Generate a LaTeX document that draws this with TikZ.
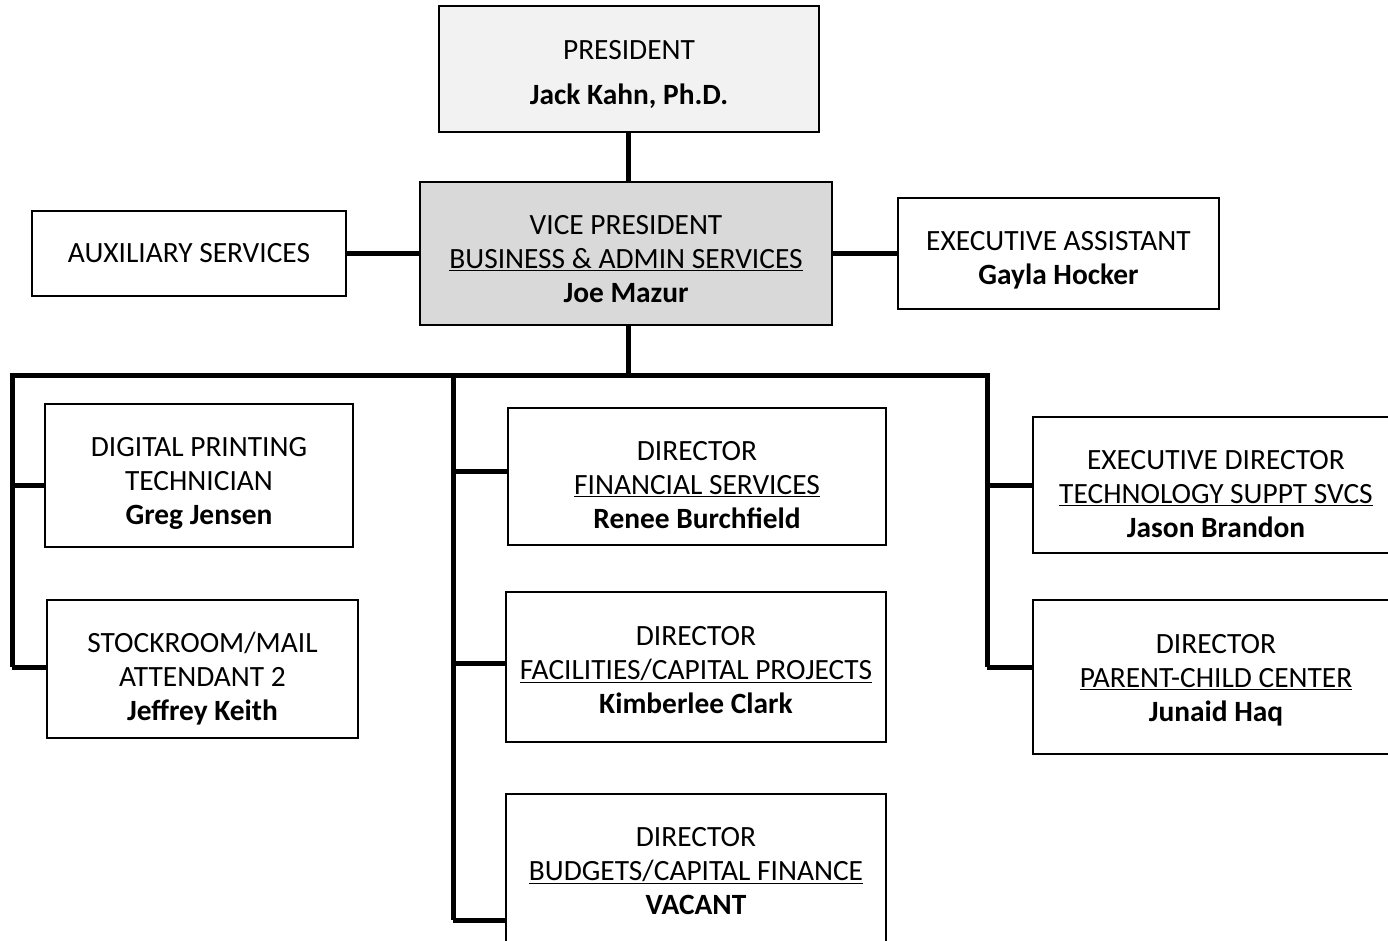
\documentclass[tikz,border=0pt]{standalone}
\usepackage{fontspec}
\setmainfont{Carlito}
\usetikzlibrary{calc}
\begin{document}
\begin{tikzpicture}[x=1pt,y=-1pt,
  box/.style={draw=black,line width=1.6pt,fill=white,inner sep=0pt},
  txt/.style={align=center,inner sep=0pt,font=\fontsize{29.4}{34}\selectfont},
  conn/.style={line width=5pt}]
\clip (0,0) rectangle (1388,941);
\fill[white] (0,0) rectangle (1388,941);
% boxes
\node[box,fill={rgb,255:red,242;green,242;blue,242},minimum width=380,minimum height=126] (pres) at (629,69) {};
\node[txt] (pres-t) at ($(pres.center)+(0,5)$) {PRESIDENT\\[11pt]\textbf{Jack Kahn, Ph.D.}};
\node[box,fill={rgb,255:red,217;green,217;blue,217},minimum width=412,minimum height=143] (vp) at (626,253.5) {};
\node[txt] (vp-t) at ($(vp.center)+(0,6)$) {VICE PRESIDENT\\\underline{BUSINESS \& ADMIN SERVICES}\\\textbf{Joe Mazur}};
\node[box,minimum width=314,minimum height=85] (aux) at (189,253.5) {};
\node[txt] (aux-t) at (aux.center) {AUXILIARY SERVICES};
\node[box,minimum width=321,minimum height=111] (ea) at (1058.5,253.5) {};
\node[txt] (ea-t) at ($(ea.center)+(0,7)$) {EXECUTIVE ASSISTANT\\\textbf{Gayla Hocker}};
\node[box,minimum width=308,minimum height=143] (dp) at (199,475.5) {};
\node[txt] (dp-t) at ($(dp.center)+(0,8)$) {DIGITAL PRINTING\\TECHNICIAN\\\textbf{Greg Jensen}};
\node[box,minimum width=311,minimum height=138] (sm) at (202.5,669) {};
\node[txt] (sm-t) at ($(sm.center)+(0,10)$) {STOCKROOM/MAIL\\ATTENDANT 2\\\textbf{Jeffrey Keith}};
\node[box,minimum width=378,minimum height=137] (fs) at (697,476.5) {};
\node[txt] (fs-t) at ($(fs.center)+(0,9)$) {DIRECTOR\\\underline{FINANCIAL SERVICES}\\\textbf{Renee Burchfield}};
\node[box,minimum width=380,minimum height=150] (fc) at (696,667) {};
\node[txt] (fc-t) at ($(fc.center)+(0,3)$) {DIRECTOR\\\underline{FACILITIES/CAPITAL PROJECTS}\\\textbf{Kimberlee Clark}};
\node[box,minimum width=380,minimum height=152] (bg) at (696,870) {};
\node[txt] (bg-t) at ($(bg.center)+(0,1)$) {DIRECTOR\\\underline{BUDGETS/CAPITAL FINANCE}\\\textbf{VACANT}};
\node[box,minimum width=366,minimum height=136] (ed) at (1216,485) {};
\node[txt] (ed-t) at ($(ed.center)+(0,9)$) {EXECUTIVE DIRECTOR\\\underline{TECHNOLOGY SUPPT SVCS}\\\textbf{Jason Brandon}};
\node[box,minimum width=366,minimum height=154] (pc) at (1216,677) {};
\node[txt] (pc-t) at ($(pc.center)+(0,3)$) {DIRECTOR\\\underline{PARENT-CHILD CENTER}\\\textbf{Junaid Haq}};
% bus coordinates
\coordinate (busC) at (628,375);
\coordinate (busL) at (10,375);
\coordinate (busR) at (987,375);
\coordinate (vL) at (12,375);
\coordinate (vM) at (453,375);
\coordinate (jdp) at (12,485);
\coordinate (jsm) at (12,667);
\coordinate (jfs) at (453,471);
\coordinate (jfc) at (453,663);
\coordinate (jbg) at (453,920);
\coordinate (jed) at (987,485);
\coordinate (jpc) at (987,667);
% connectors
\draw[conn] (pres.south -| busC) -- (vp.north -| busC);
\draw[conn] (aux.east) -- (vp.west);
\draw[conn] (vp.east) -- (ea.west);
\draw[conn] (vp.south -| busC) -- (busC);
\draw[conn] (busL) -- (busR) -- (jpc);
\draw[conn] (vL) -- (jsm);
\draw[conn] (vM) -- (jbg);
\draw[conn] (jdp) -- (jdp -| dp.west);
\draw[conn] (jsm) -- (jsm -| sm.west);
\draw[conn] (jfs) -- (jfs -| fs.west);
\draw[conn] (jfc) -- (jfc -| fc.west);
\draw[conn] (jbg) -- (jbg -| bg.west);
\draw[conn] (jed) -- (jed -| ed.west);
\draw[conn] (jpc) -- (jpc -| pc.west);
\end{tikzpicture}
\end{document}
